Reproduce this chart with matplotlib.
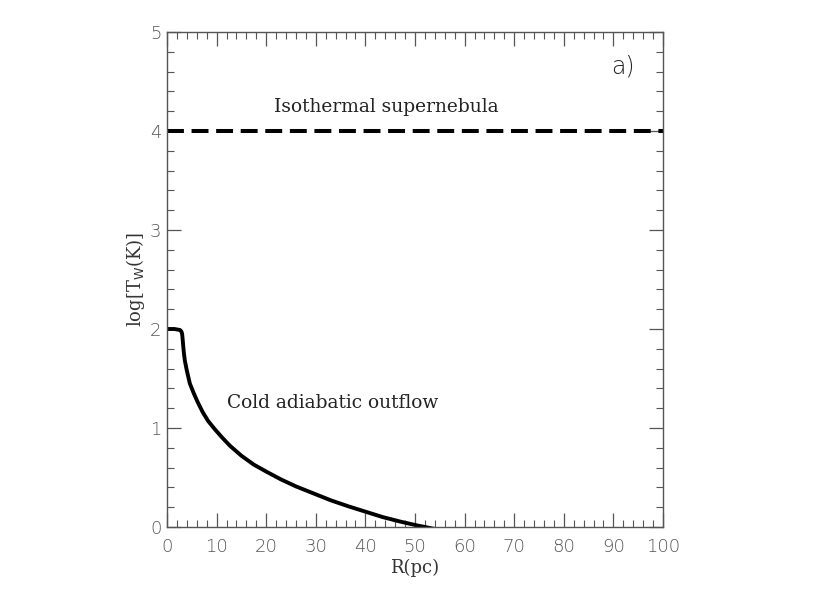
import numpy as np
import matplotlib; matplotlib.use('Agg')
import matplotlib.pyplot as plt
from matplotlib.ticker import MultipleLocator

# values
r_pc   = [0.0, 1.5, 2.6, 2.9, 3.05, 3.15, 3.25, 3.4, 3.6, 4.0, 4.6, 5.4, 6.2, 7.2, 8.3,
          9.6, 11.0, 12.7, 15.0, 17.5, 20.0, 23.0, 26.0, 29.5, 33.0, 36.5, 40.0,
          43.5, 47.0, 50.5, 54.0]
log_tw = [2.0, 2.0, 1.99, 1.975, 1.95, 1.90, 1.84, 1.76, 1.68, 1.58, 1.45, 1.35, 1.26,
          1.16, 1.07, 0.99, 0.91, 0.82, 0.72, 0.63, 0.56, 0.48, 0.41, 0.34, 0.27,
          0.21, 0.155, 0.10, 0.055, 0.015, -0.02]
iso_level = 4.0

fig = plt.figure(figsize=(8.3, 5.93), dpi=100)
ax = fig.add_axes([167/830, 1-527/593, 496/830, 495/593])

ax.plot(r_pc, log_tw, color='black', lw=2.8, solid_joinstyle='round', solid_capstyle='butt')
ax.axhline(iso_level, color='black', lw=2.9, dashes=(4.2, 1.9))

ax.set_xlim(0, 100)
ax.set_ylim(0, 5)
ax.xaxis.set_major_locator(MultipleLocator(10))
ax.xaxis.set_minor_locator(MultipleLocator(2))
ax.yaxis.set_major_locator(MultipleLocator(1))
ax.yaxis.set_minor_locator(MultipleLocator(0.2))
ax.tick_params(which='both', direction='in', top=True, right=True, color='#555555')
ax.tick_params(which='major', length=10, width=0.9, labelsize=13, labelcolor='#555555')
ax.tick_params(which='minor', length=5, width=0.8)
ax.tick_params(axis='x', which='major', pad=8)
ax.tick_params(axis='y', which='major', pad=4)
for s in ax.spines.values():
    s.set_color('#555555'); s.set_linewidth(1.0)
for lab in ax.get_xticklabels() + ax.get_yticklabels():
    lab.set_fontfamily('DejaVu Sans'); lab.set_fontweight('light')

serif = 'DejaVu Serif'
ax.set_xlabel('R(pc)', fontsize=13, family=serif, color='#333333', labelpad=2)
ax.set_ylabel(r'log[T$_{\rm W}$(K)]', fontsize=13, family=serif, color='#333333', labelpad=2)

ax.text(44.3, 4.245, 'Isothermal supernebula', ha='center', va='center',
        fontsize=13.4, family=serif, color='#222222')
ax.text(12.0, 1.25, 'Cold adiabatic outflow', ha='left', va='center',
        fontsize=13.4, family=serif, color='#222222')
ax.text(92.0, 4.65, 'a)', ha='center', va='center', fontsize=17, family='DejaVu Sans',
        fontweight='light', color='#222222')

plt.savefig('out.png', dpi=100)
